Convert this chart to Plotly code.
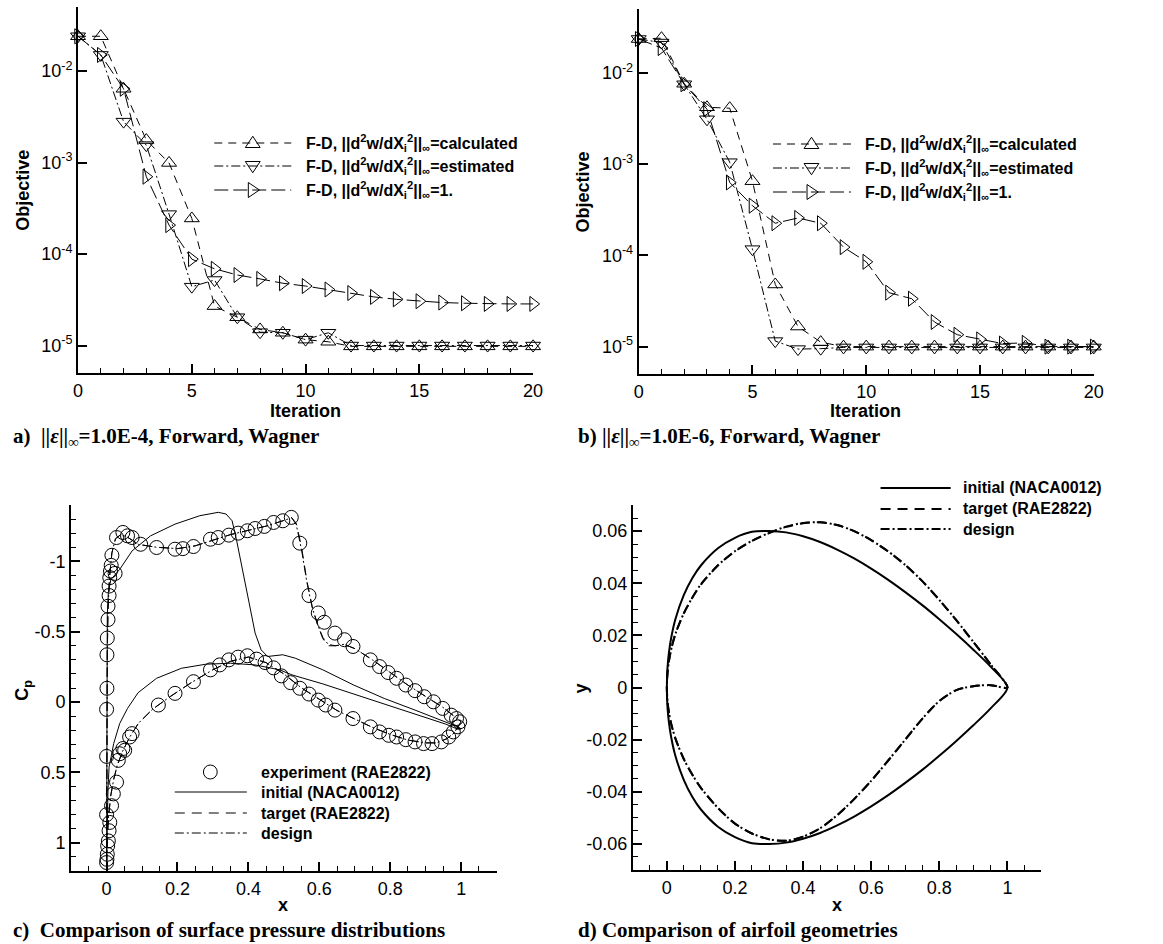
import plotly.graph_objects as go

W, H = 1163, 944
SANS = "Liberation Sans, Arial, sans-serif"
SERIF = "Liberation Serif, Times New Roman, serif"

# ---------------- data: panels a / b (objective history) ----------------
iterations = list(range(21))

a_calculated = [2.4e-2, 2.4e-2, 6.4e-3, 1.76e-3, 9.9e-4, 2.45e-4, 2.7e-5, 2.04e-5, 1.5e-5, 1.38e-5,
                1.16e-5, 1.1e-5, 0.98e-5, 0.98e-5, 0.98e-5, 0.98e-5, 0.98e-5, 0.98e-5, 0.98e-5, 0.98e-5, 0.98e-5]
a_estimated = [2.4e-2, 1.5e-2, 2.8e-3, 1.55e-3, 2.73e-4, 4.4e-5, 5.2e-5, 2.04e-5, 1.4e-5, 1.38e-5,
               1.16e-5, 1.38e-5, 1.0e-5, 1.0e-5, 1.0e-5, 1.0e-5, 1.0e-5, 1.0e-5, 1.0e-5, 1.0e-5, 1.0e-5]
a_unity = [2.4e-2, 1.5e-2, 6.4e-3, 7.0e-4, 2.07e-4, 8.8e-5, 6.9e-5, 5.9e-5, 5.35e-5, 4.8e-5,
           4.47e-5, 4.1e-5, 3.75e-5, 3.4e-5, 3.2e-5, 3.05e-5, 2.95e-5, 2.9e-5, 2.85e-5, 2.85e-5, 2.85e-5]

b_calculated = [2.35e-2, 2.4e-2, 7.6e-3, 4.2e-3, 4.1e-3, 6.5e-4, 4.8e-5, 1.66e-5, 1.12e-5, 1.0e-5,
                1.0e-5, 1.0e-5, 1.0e-5, 1.0e-5, 1.0e-5, 1.0e-5, 1.0e-5, 1.0e-5, 1.0e-5, 1.0e-5, 1.0e-5]
b_estimated = [2.35e-2, 2.15e-2, 7.5e-3, 3.1e-3, 1.05e-3, 1.17e-4, 1.15e-5, 9.4e-6, 9.5e-6, 9.8e-6,
               9.8e-6, 9.8e-6, 9.8e-6, 9.8e-6, 9.8e-6, 9.8e-6, 9.8e-6, 9.8e-6, 9.8e-6, 9.8e-6, 9.8e-6]
b_unity = [2.35e-2, 1.87e-2, 7.5e-3, 4.0e-3, 6.3e-4, 3.5e-4, 2.25e-4, 2.57e-4, 2.25e-4, 1.23e-4,
           8.5e-5, 3.9e-5, 3.35e-5, 1.86e-5, 1.35e-5, 1.2e-5, 1.08e-5, 1.1e-5, 1.0e-5, 1.0e-5, 1.0e-5]

obj_tickvals = [1e-5, 1e-4, 1e-3, 1e-2]
obj_ticktext = ["10<sup>-5</sup>", "10<sup>-4</sup>", "10<sup>-3</sup>", "10<sup>-2</sup>"]
iter_tickvals = [0, 5, 10, 15, 20]
iter_ticktext = ["0", "5", "10", "15", "20"]

# ---------------- data: panel c (surface pressure) ----------------
exp_upper_x = [0.000, 0.000, 0.000, 0.001, 0.001, 0.002, 0.004, 0.004, 0.007, 0.007, 0.009, 0.011, 0.013,
               0.015, 0.024, 0.028, 0.046, 0.059, 0.072, 0.096, 0.141, 0.193, 0.215, 0.245, 0.293, 0.315,
               0.345, 0.371, 0.397, 0.419, 0.445, 0.471, 0.497, 0.521, 0.545, 0.571, 0.597, 0.614, 0.644,
               0.671, 0.695, 0.744, 0.770, 0.794, 0.818, 0.844, 0.870, 0.896, 0.922, 0.948, 0.972, 0.987]
exp_upper_cp = [0.80, 0.386, 0.052, -0.098, -0.336, -0.455, -0.586, -0.681, -0.757, -0.824, -0.884, -0.931,
                -0.971, -1.043, -0.914, -1.169, -1.205, -1.181, -1.169, -1.121, -1.098, -1.086, -1.09, -1.105,
                -1.157, -1.169, -1.186, -1.2, -1.217, -1.233, -1.248, -1.276, -1.288, -1.312, -1.129, -0.757,
                -0.633, -0.567, -0.49, -0.443, -0.395, -0.3, -0.252, -0.21, -0.169, -0.121, -0.081, -0.038,
                -0.002, 0.045, 0.093, 0.117]
exp_lower_x = [0.000, 0.001, 0.002, 0.003, 0.005, 0.007, 0.009, 0.014, 0.019, 0.028, 0.033, 0.037, 0.046,
               0.051, 0.065, 0.072, 0.146, 0.193, 0.245, 0.293, 0.319, 0.345, 0.371, 0.397, 0.423, 0.447,
               0.471, 0.493, 0.519, 0.545, 0.571, 0.597, 0.618, 0.644, 0.695, 0.744, 0.770, 0.796, 0.818,
               0.844, 0.870, 0.894, 0.918, 0.944, 0.965, 0.978, 0.991, 0.996]
exp_lower_cp = [1.14, 1.117, 1.081, 1.021, 0.986, 0.914, 0.855, 0.736, 0.652, 0.569, 0.414, 0.367, 0.33,
                0.343, 0.248, 0.224, 0.021, -0.062, -0.145, -0.229, -0.264, -0.3, -0.319, -0.329, -0.305,
                -0.281, -0.243, -0.186, -0.138, -0.098, -0.057, -0.014, 0.021, 0.057, 0.117, 0.176, 0.212,
                0.236, 0.248, 0.267, 0.283, 0.295, 0.295, 0.283, 0.248, 0.212, 0.176, 0.14]

init_upper_x = [0.0, 0.0, 0.0005, 0.001, 0.002, 0.005, 0.012, 0.037, 0.072, 0.124, 0.193, 0.263, 0.315,
                0.337, 0.354, 0.367, 0.384, 0.402, 0.419, 0.436, 0.454, 0.497, 0.532, 0.61, 0.697, 0.783,
                0.87, 0.939, 0.991, 1.0]
init_upper_cp = [1.16, 0.6, 0.0, -0.4, -0.62, -0.78, -0.87, -0.943, -1.074, -1.181, -1.264, -1.324, -1.348,
                 -1.336, -1.288, -1.145, -0.943, -0.705, -0.49, -0.371, -0.324, -0.336, -0.312, -0.229,
                 -0.121, -0.026, 0.057, 0.124, 0.176, 0.19]
init_lower_x = [0.0, 0.002, 0.004, 0.007, 0.02, 0.037, 0.059, 0.089, 0.141, 0.211, 0.28, 0.349, 0.419,
                0.488, 0.523, 0.61, 0.697, 0.783, 0.87, 0.957, 0.991, 1.0]
init_lower_cp = [1.16, 0.85, 0.62, 0.462, 0.295, 0.152, 0.045, -0.067, -0.169, -0.24, -0.269, -0.276,
                 -0.264, -0.229, -0.193, -0.129, -0.057, 0.014, 0.086, 0.157, 0.193, 0.19]

target_upper_x = [0.0, 0.0005, 0.001, 0.002, 0.004, 0.008, 0.015, 0.025, 0.04, 0.06, 0.09, 0.14, 0.2, 0.25,
                  0.3, 0.35, 0.4, 0.45, 0.5, 0.522, 0.535, 0.55, 0.565, 0.58, 0.595, 0.61, 0.625, 0.645,
                  0.67, 0.7, 0.75, 0.8, 0.85, 0.9, 0.95, 0.98, 1.0]
target_upper_cp = [1.15, 0.6, 0.1, -0.35, -0.65, -0.88, -1.06, -1.16, -1.19, -1.17, -1.12, -1.10, -1.09,
                   -1.11, -1.15, -1.19, -1.22, -1.25, -1.29, -1.31, -1.27, -1.1, -0.86, -0.68, -0.55,
                   -0.45, -0.40, -0.40, -0.41, -0.38, -0.30, -0.21, -0.12, -0.04, 0.04, 0.10, 0.14]
target_lower_x = [0.0, 0.001, 0.003, 0.006, 0.012, 0.02, 0.03, 0.045, 0.065, 0.09, 0.13, 0.18, 0.24, 0.3,
                  0.35, 0.4, 0.45, 0.5, 0.55, 0.6, 0.65, 0.7, 0.75, 0.8, 0.85, 0.9, 0.93, 0.96, 0.98, 1.0]
target_lower_cp = [1.15, 1.05, 0.92, 0.8, 0.66, 0.55, 0.45, 0.35, 0.25, 0.15, 0.05, -0.04, -0.14, -0.23,
                   -0.29, -0.32, -0.28, -0.20, -0.10, -0.02, 0.06, 0.12, 0.18, 0.23, 0.27, 0.29, 0.29,
                   0.26, 0.22, 0.14]
design_upper_x = target_upper_x
design_upper_cp = [1.15, 0.6, 0.1, -0.35, -0.65, -0.88, -1.06, -1.16, -1.19, -1.17, -1.12, -1.10, -1.09,
                   -1.11, -1.15, -1.19, -1.22, -1.25, -1.29, -1.31, -1.26, -1.08, -0.85, -0.67, -0.55,
                   -0.46, -0.41, -0.40, -0.41, -0.38, -0.30, -0.21, -0.12, -0.04, 0.04, 0.10, 0.14]
design_lower_x = target_lower_x
design_lower_cp = [1.15, 1.05, 0.92, 0.8, 0.66, 0.55, 0.45, 0.35, 0.25, 0.15, 0.05, -0.04, -0.14, -0.23,
                   -0.29, -0.32, -0.28, -0.20, -0.10, -0.02, 0.06, 0.12, 0.18, 0.23, 0.27, 0.29, 0.29,
                   0.26, 0.22, 0.14]

cp_tickvals = [-1, -0.5, 0, 0.5, 1]
cp_ticktext = ["-1", "-0.5", "0", "0.5", "1"]
chord_tickvals = [0, 0.2, 0.4, 0.6, 0.8, 1.0]
chord_ticktext = ["0", "0.2", "0.4", "0.6", "0.8", "1"]

# ---------------- data: panel d (airfoil geometry) ----------------
foil_x = [0, 0.002, 0.006, 0.0125, 0.025, 0.05, 0.075, 0.1, 0.15, 0.2, 0.25, 0.3, 0.35, 0.4, 0.45, 0.5,
          0.55, 0.6, 0.65, 0.7, 0.75, 0.8, 0.85, 0.9, 0.95, 1.0]
naca_upper = [0, 0.0078, 0.0133, 0.0189, 0.0262, 0.0355, 0.0420, 0.0468, 0.0534, 0.0574, 0.0597, 0.0600,
              0.0595, 0.0580, 0.0558, 0.0529, 0.0495, 0.0456, 0.0413, 0.0366, 0.0316, 0.0262, 0.0205,
              0.0145, 0.0081, 0.0]
naca_lower = [0, -0.0078, -0.0133, -0.0189, -0.0262, -0.0355, -0.0420, -0.0468, -0.0534, -0.0574, -0.0597,
              -0.0600, -0.0595, -0.0580, -0.0558, -0.0529, -0.0495, -0.0456, -0.0413, -0.0366, -0.0316,
              -0.0262, -0.0205, -0.0145, -0.0081, 0.0]
target_upper = [0, 0.0058, 0.0100, 0.0145, 0.0205, 0.0285, 0.0345, 0.0395, 0.0468, 0.0522, 0.0562, 0.0592,
                0.0616, 0.0630, 0.0634, 0.0623, 0.0600, 0.0565, 0.0522, 0.0470, 0.0408, 0.0336, 0.0258,
                0.0175, 0.0090, 0.0]
target_lower = [0, -0.0055, -0.0095, -0.0138, -0.0195, -0.0275, -0.0335, -0.0385, -0.0462, -0.0522,
                -0.0560, -0.0582, -0.0588, -0.0572, -0.0540, -0.0490, -0.0428, -0.0358, -0.0280, -0.0200,
                -0.0120, -0.0052, -0.0010, 0.0005, 0.0009, 0.0]
design_upper = [0, 0.0058, 0.0100, 0.0145, 0.0205, 0.0285, 0.0345, 0.0396, 0.0469, 0.0523, 0.0563, 0.0593,
                0.0617, 0.0631, 0.0634, 0.0623, 0.0600, 0.0565, 0.0522, 0.0470, 0.0408, 0.0336, 0.0258,
                0.0175, 0.0090, 0.0]
design_lower = [0, -0.0055, -0.0095, -0.0138, -0.0195, -0.0275, -0.0335, -0.0385, -0.0462, -0.0522,
                -0.0560, -0.0582, -0.0588, -0.0572, -0.0540, -0.0490, -0.0428, -0.0358, -0.0280, -0.0200,
                -0.0120, -0.0052, -0.0010, 0.0005, 0.0009, 0.0]

y_tickvals = [-0.06, -0.04, -0.02, 0, 0.02, 0.04, 0.06]
y_ticktext = ["-0.06", "-0.04", "-0.02", "0", "0.02", "0.04", "0.06"]

# ---------------- styles / layout constants (pixels) ----------------
DASH_CALC = "8px,6px"
DASH_EST = "9px,3px,2px,3px"
DASH_UNITY = "14px,5px"
DASH_TARGET = "10px,7px"
DASH_DESIGN = "9px,3px,2px,3px"

TRI = 13
CIRC = 14

BOX_A = (74, 535, 7, 373)      # left, right, top, bottom
BOX_B = (642, 1103, 9, 374)
BOX_C = (67, 498, 505, 871)
BOX_D = (636, 1050, 505, 870)

fig = go.Figure()


def dom_x(box):
    return [box[0] / W, box[1] / W]


def dom_y(box):
    return [1 - box[3] / H, 1 - box[2] / H]


def axis_common():
    return dict(showline=True, linecolor="black", linewidth=2, ticks="inside", ticklen=9, tickwidth=1.5,
                tickcolor="black", showgrid=False, zeroline=False,
                tickfont=dict(family=SANS, size=18, color="black"))


def minor(t0, dt):
    return dict(tickmode="linear", tick0=t0, dtick=dt, ticks="inside", ticklen=5, tickwidth=1.2,
                tickcolor="black", showgrid=False)


# panels a, b
for (xa, ya, calc, est, uni) in [("x", "y", a_calculated, a_estimated, a_unity),
                                  ("x2", "y2", b_calculated, b_estimated, b_unity)]:
    for vals, dash, sym in [(calc, DASH_CALC, "triangle-up-open"),
                            (est, DASH_EST, "triangle-down-open"),
                            (uni, DASH_UNITY, "triangle-right-open")]:
        fig.add_trace(go.Scatter(x=iterations, y=vals, xaxis=xa, yaxis=ya, mode="lines+markers",
                                 line=dict(color="black", width=1, dash=dash),
                                 marker=dict(symbol=sym, size=TRI, color="black", line=dict(width=1)),
                                 showlegend=False, cliponaxis=False))

# panel c
fig.add_trace(go.Scatter(x=init_upper_x + [None] + init_lower_x, y=init_upper_cp + [None] + init_lower_cp,
                         xaxis="x3", yaxis="y3", mode="lines", line=dict(color="black", width=1),
                         showlegend=False))
fig.add_trace(go.Scatter(x=target_upper_x + [None] + target_lower_x,
                         y=target_upper_cp + [None] + target_lower_cp,
                         xaxis="x3", yaxis="y3", mode="lines",
                         line=dict(color="black", width=1, dash=DASH_TARGET), showlegend=False))
fig.add_trace(go.Scatter(x=design_upper_x + [None] + design_lower_x,
                         y=design_upper_cp + [None] + design_lower_cp,
                         xaxis="x3", yaxis="y3", mode="lines",
                         line=dict(color="black", width=1, dash=DASH_DESIGN), showlegend=False))
fig.add_trace(go.Scatter(x=exp_upper_x + exp_lower_x, y=exp_upper_cp + exp_lower_cp,
                         xaxis="x3", yaxis="y3", mode="markers",
                         marker=dict(symbol="circle-open", size=CIRC, color="black", line=dict(width=1)),
                         showlegend=False))

# panel d
loop_x = foil_x[::-1] + foil_x[1:]
for upper, lower, dash in [(naca_upper, naca_lower, "solid"),
                           (target_upper, target_lower, DASH_TARGET),
                           (design_upper, design_lower, DASH_DESIGN)]:
    fig.add_trace(go.Scatter(x=loop_x, y=upper[::-1] + lower[1:], xaxis="x4", yaxis="y4", mode="lines",
                             line=dict(color="black", width=2, dash=dash, shape="spline", smoothing=0.8),
                             showlegend=False))

# ---------------- legends (drawn as shapes + annotations) ----------------
LEG_A = dict(x0=212, x1=290, xm=251, xt=303, rows=[143, 166, 190])
LEG_B = dict(x0=778, x1=857, xm=817, xt=869, rows=[144, 168, 192])
LEG_C = dict(x0=172, x1=245, xm=208, xt=257, rows=[772, 792, 813, 833])
LEG_D = dict(x0=887, x1=958, xm=922, xt=968, rows=[488, 509, 529])

obj_names = ["F-D, ||d<sup>2</sup>w/dX<sub>i</sub><sup>2</sup>||<sub>∞</sub>=calculated",
             "F-D, ||d<sup>2</sup>w/dX<sub>i</sub><sup>2</sup>||<sub>∞</sub>=estimated",
             "F-D, ||d<sup>2</sup>w/dX<sub>i</sub><sup>2</sup>||<sub>∞</sub>=1."]
obj_styles = [(DASH_CALC, "triangle-up"), (DASH_EST, "triangle-down"), (DASH_UNITY, "triangle-right")]

annotations = []
shapes = []


def px_x(x):
    return x / W


def px_y(y):
    return 1 - y / H


def leg_text(x, y, txt, size=16):
    annotations.append(dict(x=px_x(x), y=px_y(y), xref="paper", yref="paper", text="<b>" + txt + "</b>",
                            showarrow=False, xanchor="left", yanchor="middle",
                            font=dict(family=SANS, size=size, color="black")))


def leg_line(leg, row, dash, width=1):
    shapes.append(dict(type="line", xref="paper", yref="paper", x0=px_x(leg["x0"]), x1=px_x(leg["x1"]),
                       y0=px_y(row), y1=px_y(row), line=dict(color="black", width=width, dash=dash)))


def leg_tri(leg, row, kind, r=7.5):
    cx, cy = leg["xm"], row
    if kind == "triangle-up":
        pts = [(cx - r, cy + r * 0.6), (cx + r, cy + r * 0.6), (cx, cy - r * 0.9)]
    elif kind == "triangle-down":
        pts = [(cx - r, cy - r * 0.6), (cx + r, cy - r * 0.6), (cx, cy + r * 0.9)]
    else:
        pts = [(cx - r * 0.6, cy - r), (cx - r * 0.6, cy + r), (cx + r * 0.9, cy)]
    path = "M " + " L ".join(f"{px_x(px):.5f},{px_y(py):.5f}" for px, py in pts) + " Z"
    shapes.append(dict(type="path", xref="paper", yref="paper", path=path,
                       line=dict(color="black", width=1), fillcolor="rgba(0,0,0,0)"))


def leg_circle(leg, row, r=7):
    shapes.append(dict(type="circle", xref="paper", yref="paper", x0=px_x(leg["xm"] - r),
                       x1=px_x(leg["xm"] + r), y0=px_y(row + r), y1=px_y(row - r),
                       line=dict(color="black", width=1)))


for leg in (LEG_A, LEG_B):
    for row, name, (dash, sym) in zip(leg["rows"], obj_names, obj_styles):
        leg_line(leg, row, dash)
        leg_tri(leg, row, sym)
        leg_text(leg["xt"], row, name)

c_names = ["experiment (RAE2822)", "initial (NACA0012)", "target (RAE2822)", "design"]
leg_circle(LEG_C, LEG_C["rows"][0])
leg_line(LEG_C, LEG_C["rows"][1], "solid")
leg_line(LEG_C, LEG_C["rows"][2], DASH_TARGET)
leg_line(LEG_C, LEG_C["rows"][3], DASH_DESIGN)
for row, name in zip(LEG_C["rows"], c_names):
    leg_text(LEG_C["xt"], row, name)

d_names = ["initial (NACA0012)", "target (RAE2822)", "design"]
for row, name, dash in zip(LEG_D["rows"], d_names, ["solid", DASH_TARGET, DASH_DESIGN]):
    leg_line(LEG_D, row, dash, width=2)
    leg_text(LEG_D["xt"], row, name)


# ---------------- titles and captions ----------------
def title(x, y, txt, angle=0, size=18):
    annotations.append(dict(x=px_x(x), y=px_y(y), xref="paper", yref="paper", text="<b>" + txt + "</b>",
                            showarrow=False, xanchor="center", yanchor="middle", textangle=angle,
                            font=dict(family=SANS, size=size, color="black")))


title(18, 190, "Objective", -90)
title(304, 411, "Iteration")
title(586, 192, "Objective", -90)
title(872, 411, "Iteration")
title(18, 690, "C<sub>p</sub>", -90)
title(282, 905, "x")
title(584, 688, "y", -90)
title(843, 905, "x")


def caption(x, y, txt):
    annotations.append(dict(x=px_x(x), y=px_y(y), xref="paper", yref="paper", text="<b>" + txt + "</b>",
                            showarrow=False, xanchor="left", yanchor="middle",
                            font=dict(family=SERIF, size=21, color="black")))


caption(6, 437, "a)\u00a0\u00a0||<i>ε</i>||<sub>∞</sub>=1.0E-4, Forward, Wagner")
caption(578, 437, "b) ||<i>ε</i>||<sub>∞</sub>=1.0E-6, Forward, Wagner")
caption(6, 930, "c)\u00a0\u00a0Comparison of surface pressure distributions")
caption(578, 930, "d) Comparison of airfoil geometries")

# ---------------- axes ----------------
ax = axis_common()
fig.update_layout(
    width=W, height=H, margin=dict(l=0, r=0, t=0, b=0),
    paper_bgcolor="white", plot_bgcolor="white", showlegend=False,
    xaxis=dict(**ax, domain=dom_x(BOX_A), anchor="y", range=[0, 20], tickmode="array",
               tickvals=iter_tickvals, ticktext=iter_ticktext, minor=minor(0, 1)),
    yaxis=dict(**ax, domain=dom_y(BOX_A), anchor="x", type="log", range=[-5.3, -1.3], tickmode="array",
               tickvals=obj_tickvals, ticktext=obj_ticktext),
    xaxis2=dict(**ax, domain=dom_x(BOX_B), anchor="y2", range=[0, 20], tickmode="array",
                tickvals=iter_tickvals, ticktext=iter_ticktext, minor=minor(0, 1)),
    yaxis2=dict(**ax, domain=dom_y(BOX_B), anchor="x2", type="log", range=[-5.3, -1.3], tickmode="array",
                tickvals=obj_tickvals, ticktext=obj_ticktext),
    xaxis3=dict(**ax, domain=dom_x(BOX_C), anchor="y3", range=[-0.1, 1.1], tickmode="array",
                tickvals=chord_tickvals, ticktext=chord_ticktext, minor=minor(0, 0.05)),
    yaxis3=dict(**ax, domain=dom_y(BOX_C), anchor="x3", range=[1.2, -1.4], tickmode="array",
                tickvals=cp_tickvals, ticktext=cp_ticktext, minor=minor(0, 0.1)),
    xaxis4=dict(**ax, domain=dom_x(BOX_D), anchor="y4", range=[-0.1, 1.1], tickmode="array",
                tickvals=chord_tickvals, ticktext=chord_ticktext, minor=minor(0, 0.05)),
    yaxis4=dict(**ax, domain=dom_y(BOX_D), anchor="x4", range=[-0.07, 0.07], tickmode="array",
                tickvals=y_tickvals, ticktext=y_ticktext, minor=minor(0, 0.005)),
    annotations=annotations,
    shapes=shapes,
)

fig.write_html("out.html")
